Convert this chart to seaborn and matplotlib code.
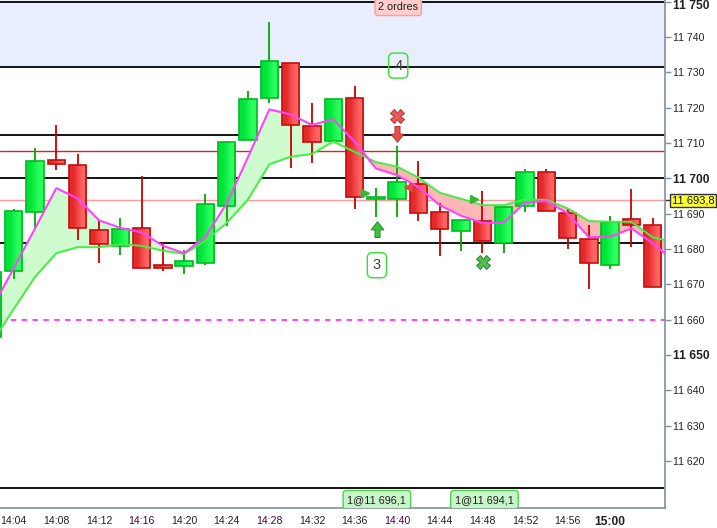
import numpy as np
import pandas as pd
import matplotlib
matplotlib.use("Agg")
import matplotlib.pyplot as plt
import matplotlib.transforms as mtransforms
from matplotlib.path import Path
from matplotlib.colors import to_rgb
import seaborn as sns

# ---------------- data ----------------
# candle times in minutes after 14:00 (2-minute candles)
times = [2, 4, 6, 8, 10, 12, 14, 16, 18, 20, 22, 24, 26, 28, 30, 32,
         34, 36, 38, 40, 42, 44, 46, 48, 50, 52, 54, 56, 58, 60, 62, 64]
opens = [11655.0, 11673.7, 11690.4, 11705.1, 11703.7, 11685.3, 11680.7, 11685.8,
         11675.4, 11675.1, 11675.9, 11692.1, 11710.8, 11722.7, 11732.6, 11714.7,
         11710.5, 11722.7, 11694.1, 11694.2, 11698.4, 11690.5, 11685.1, 11687.8,
         11681.8, 11692.2, 11701.7, 11690.1, 11682.7, 11675.6, 11688.4, 11686.8]
highs = [11675.0, 11691.2, 11708.6, 11715.1, 11706.9, 11688.2, 11688.8, 11700.7,
         11682.0, 11679.7, 11695.6, 11710.7, 11724.7, 11744.3, 11732.6, 11721.3,
         11722.4, 11726.1, 11697.3, 11709.2, 11704.9, 11692.9, 11688.2, 11696.4,
         11692.0, 11702.6, 11702.6, 11691.2, 11686.7, 11689.3, 11697.1, 11688.7]
lows = [11652.0, 11671.6, 11686.0, 11702.4, 11682.5, 11676.1, 11678.4, 11674.5,
        11673.9, 11673.0, 11675.5, 11686.6, 11710.8, 11721.4, 11702.8, 11704.4,
        11710.5, 11691.2, 11689.1, 11689.1, 11688.0, 11678.0, 11679.4, 11678.9,
        11678.8, 11690.5, 11690.7, 11680.1, 11668.8, 11674.2, 11680.6, 11669.1]
closes = [11673.5, 11690.7, 11704.8, 11704.0, 11685.8, 11681.3, 11685.6, 11674.5,
          11674.5, 11676.6, 11692.7, 11710.2, 11722.4, 11733.1, 11715.0, 11710.2,
          11722.4, 11694.6, 11694.3, 11699.0, 11690.3, 11685.7, 11688.2, 11682.3,
          11692.0, 11701.8, 11690.7, 11683.0, 11675.9, 11687.7, 11686.7, 11669.1]

# moving averages (fast = magenta, slow = green)
ma_times = times + [65.2]
ma_fast = [11663.4, 11674.6, 11685.8, 11697.2, 11694.3, 11688.1, 11686.0, 11684.7,
           11680.9, 11678.8, 11683.5, 11692.9, 11706.0, 11719.5, 11718.1, 11715.1,
           11716.7, 11710.4, 11702.8, 11700.9, 11697.5, 11692.4, 11689.4, 11687.4,
           11687.4, 11693.1, 11693.6, 11690.1, 11683.3, 11683.5, 11685.8, 11681.6,
           11678.6]
ma_slow = [11653.7, 11663.0, 11672.1, 11678.8, 11680.5, 11680.5, 11681.3, 11680.9,
           11679.5, 11678.6, 11682.3, 11687.4, 11694.0, 11704.0, 11706.1, 11706.9,
           11710.4, 11707.5, 11704.6, 11703.3, 11700.2, 11695.9, 11694.2, 11692.4,
           11692.4, 11694.0, 11693.9, 11691.5, 11687.9, 11687.7, 11687.7, 11683.3,
           11682.5]

# horizontal levels
black_levels = [11750.0, 11731.4, 11712.2, 11700.0, 11681.6, 11612.2]
red_level = 11707.6
last_price = 11693.8
stop_level = 11659.8
band_low = 11731.4

# axis ticks
ytick_vals = list(range(11620, 11751, 10))
ytick_labels = ["11 620", "11 630", "11 640", "11 650", "11 660", "11 670", "11 680",
                "11 690", "11 700", "11 710", "11 720", "11 730", "11 740", "11 750"]
xtick_vals = list(range(4, 61, 4))
xtick_labels = ["14:04", "14:08", "14:12", "14:16", "14:20", "14:24", "14:28", "14:32",
                "14:36", "14:40", "14:44", "14:48", "14:52", "14:56", "15:00"]

# annotations
order_box_labels = ["4", "3"]
order_box_x = [40.1, 38.1]
order_box_y = [11731.9, 11675.4]
fill_labels = ["1@11 696,1", "1@11 694,1"]
fill_label_x = [38.1, 48.2]
fill_label_y = 11609.0
orders_text = "2 ordres"
orders_x, orders_y = 40.1, 11748.4

# ---------------- figure ----------------
sns.set_style("white")
plt.rcParams['font.family'] = ['Liberation Sans', 'DejaVu Sans']

W, H = 717, 528
fig = plt.figure(figsize=(W / 100, H / 100), dpi=100)
ax = fig.add_axes([0, 20 / H, 665 / W, 508 / H])
ax.set_facecolor("white")

xmin, xmax = 2.71, 65.15
ymin, ymax = 11606.68, 11750.47

# background band
ax.axhspan(band_low, 11760, color="#E8EEFD", zorder=0, lw=0)

# horizontal lines
for lv in black_levels:
    ax.axhline(lv, color="black", lw=1.3, zorder=1)
ax.axhline(red_level, color="#DD2020", lw=1.0, zorder=1)
ax.axhline(last_price, color="#FF9A9A", lw=1.0, zorder=1)
ax.axhline(stop_level, color="#FF30FF", lw=1.3, ls=(0, (3, 3)), zorder=1)

# fill between MAs
mt = np.array(ma_times, dtype=float)
mf = np.array(ma_fast)
ms = np.array(ma_slow)
ax.fill_between(mt, mf, ms, where=mf >= ms, interpolate=True, color="#CFFCCF", lw=0, zorder=2)
ax.fill_between(mt, mf, ms, where=mf < ms, interpolate=True, color="#FFB6B6", lw=0, zorder=2)

# candles
df = pd.DataFrame({"t": times, "o": opens, "h": highs, "l": lows, "c": closes})
up = df["c"] >= df["o"]
body_w = 1.64
styles = [(True, ("#00E43A", "#2CFF5C"), "#00BB22", "#00AA00"),
          (False, ("#E42A2A", "#FF6464"), "#C40E0E", "#C80000")]
for is_up, (c_left, c_right), edge, wick in styles:
    sub = df[up == is_up]
    ax.vlines(sub["t"], sub["l"], sub["h"], color=wick, lw=1.3, zorder=3)
    lo = np.minimum(sub["o"], sub["c"])
    hi = np.maximum(sub["o"], sub["c"])
    ht = np.maximum(hi - lo, 0.6)
    bars = ax.bar(sub["t"], ht, bottom=lo, width=body_w, color="none", edgecolor=edge,
                  linewidth=1.2, zorder=4.5)
    grad = np.array([[to_rgb(c_left), to_rgb(c_right)]])
    for p in bars.patches:
        x0, y0 = p.get_x(), p.get_y()
        im = ax.imshow(grad, extent=[x0, x0 + p.get_width(), y0, y0 + p.get_height()],
                       aspect="auto", interpolation="bilinear", zorder=4)
        clip = plt.Rectangle((x0, y0), p.get_width(), p.get_height(), transform=ax.transData)
        im.set_clip_path(clip)

# moving average lines (seaborn)
sns.lineplot(x=mt, y=ms, ax=ax, color="#44EE44", lw=1.4, zorder=5, estimator=None, sort=False)
sns.lineplot(x=mt, y=mf, ax=ax, color="#FF44FF", lw=1.5, zorder=5, estimator=None, sort=False)

# markers
ax.plot([40.0], [11717.6], marker="X", ms=10, color="#E85858", mec="#C83838", mew=0.8, zorder=7, ls="none")
ax.plot([48.1], [11676.2], marker="X", ms=10, color="#50C050", mec="#309030", mew=0.8, zorder=7, ls="none")
down_arrow = Path([(-0.28, 1.0), (0.28, 1.0), (0.28, 0.15), (0.7, 0.15), (0.0, -0.75),
                   (-0.7, 0.15), (-0.28, 0.15), (-0.28, 1.0)],
                  [Path.MOVETO] + [Path.LINETO] * 6 + [Path.CLOSEPOLY])
up_arrow = Path([(x, -y) for x, y in down_arrow.vertices], down_arrow.codes)
ax.plot([40.0], [11712.3], marker=down_arrow, ms=13, color="#E85050", mec="#B83030", mew=0.7, zorder=7, ls="none")
ax.plot([38.1], [11686.0], marker=up_arrow, ms=13, color="#40C040", mec="#208C20", mew=0.7, zorder=7, ls="none")
ax.plot([37.0, 47.2], [11695.9, 11694.1], marker=">", ms=6, color="#33B833", ls="none", zorder=7)
ax.plot([41.05], [11697.5], marker="<", ms=6, color="#E04848", ls="none", zorder=7)

# order boxes
for lab, x, y in zip(order_box_labels, order_box_x, order_box_y):
    ax.text(x, y, lab, ha="center", va="center", fontsize=10.5, color="#404040", zorder=8,
            bbox=dict(boxstyle="round,pad=0.38,rounding_size=0.35", fc="none", ec="#33E033", lw=1.0))
ax.text(orders_x, orders_y, orders_text, ha="center", va="center", fontsize=7.8, color="#202020",
        zorder=8, bbox=dict(boxstyle="round,pad=0.3,rounding_size=0.3", fc="#FFCDCD", ec="#FF9C9C", lw=1.0))
for lab, x in zip(fill_labels, fill_label_x):
    ax.text(x, fill_label_y, lab, ha="center", va="center", fontsize=7.8, color="#202020",
            zorder=8, clip_on=True,
            bbox=dict(boxstyle="round,pad=0.4,rounding_size=0.3", fc="#C8F5C8", ec="#55CC55", lw=1.0))

# last price label
btr = mtransforms.blended_transform_factory(ax.transAxes, ax.transData)
ax.text(1 + 7 / 665, last_price, "11 693,8", transform=btr, ha="left", va="center",
        fontsize=8, color="#111111", clip_on=False, zorder=9,
        bbox=dict(boxstyle="square,pad=0.15", fc="#FFFF33", ec="#333333", lw=1.0))
ax.plot([1, 1 + 5 / 665], [last_price, last_price], transform=btr, color="#333333",
        lw=1.0, clip_on=False)

# axes limits, ticks
ax.set_xlim(xmin, xmax)
ax.set_ylim(ymin, ymax)
ax.yaxis.tick_right()
ax.set_yticks(ytick_vals)
ax.set_yticklabels(ytick_labels)
ax.set_xticks(xtick_vals)
ax.set_xticklabels(xtick_labels)
ax.tick_params(axis="y", direction="out", length=4, width=1, color="#8090A0",
               labelcolor="#222222", pad=2, labelsize=7.6)
ax.tick_params(axis="x", direction="out", length=4, width=1, color="#8090A0",
               labelcolor="#222222", pad=2, labelsize=7.6)
for lab in ax.get_yticklabels():
    if lab.get_text() in ("11 650", "11 700", "11 750"):
        lab.set_fontweight("bold")
        lab.set_fontsize(8.7)
    if lab.get_text() == "11 750":
        lab.set_transform(lab.get_transform() +
                          mtransforms.ScaledTranslation(0, -3 / 100, fig.dpi_scale_trans))
for lab in ax.get_xticklabels():
    if lab.get_text() == "15:00":
        lab.set_fontweight("bold")
        lab.set_fontsize(8.7)
    if lab.get_text() in ("14:16", "14:28", "14:40"):
        lab.set_color("#4A004A")

for s in ("left", "top"):
    ax.spines[s].set_visible(False)
for s in ("right", "bottom"):
    ax.spines[s].set_visible(True)
    ax.spines[s].set_color("#8898A8")
    ax.spines[s].set_linewidth(1.3)
ax.set_xlabel("")
ax.set_ylabel("")
ax.grid(False)

fig.savefig("out.png", dpi=100, facecolor="white")
